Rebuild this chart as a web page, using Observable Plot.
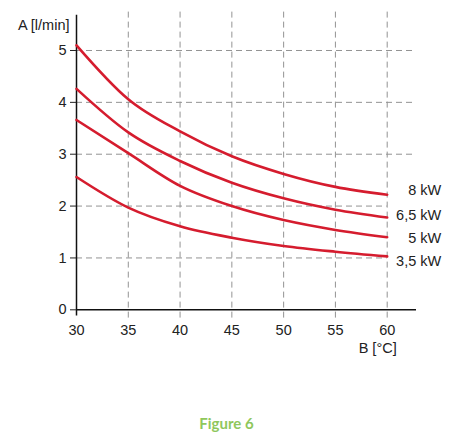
<!DOCTYPE html>
<html>
<head>
<meta charset="utf-8">
<script src="https://cdn.jsdelivr.net/npm/d3@7"></script>
<script src="https://cdn.jsdelivr.net/npm/@observablehq/plot@0.6"></script>
<style>
  body { margin: 0; background: #fff; }
  #chart { width: 453px; }
  .caption {
    width: 453px; text-align: center;
    font-family: Lato, "Open Sans", sans-serif; font-weight: bold;
    font-size: 15px; color: #8fc75c; margin-top: 54px;
  }
</style>
</head>
<body>
<div id="chart"></div>
<div class="caption">Figure 6</div>
<script>
// Temperatures (B, °C)
const temps = [30, 35, 40, 45, 50, 55, 60];
// Puissances et débits (A, l/min)
const powers = ["8 kW", "6,5 kW", "5 kW", "3,5 kW"];
const flow8 = [5.10, 4.06, 3.44, 2.96, 2.62, 2.37, 2.22];
const flow65 = [4.26, 3.42, 2.87, 2.45, 2.15, 1.93, 1.78];
const flow5 = [3.66, 3.02, 2.39, 2.00, 1.73, 1.54, 1.40];
const flow35 = [2.56, 1.97, 1.61, 1.39, 1.23, 1.12, 1.03];
// Graduations
const xTicks = [30, 35, 40, 45, 50, 55, 60];
const yTicks = [0, 1, 2, 3, 4, 5];

const series = [flow8, flow65, flow5, flow35];
const rows = series.flatMap((vals, i) => vals.map((v, j) => ({power: powers[i], B: temps[j], A: v})));
const ends = series.map((vals, i) => ({power: powers[i], B: temps[temps.length - 1], A: vals[vals.length - 1]}));

const labelDy = [-4, -2.5, 1.5, 5]; // petit décalage des étiquettes
const red = "#d51c2e";
const gridStyle = {stroke: "#939393", strokeWidth: 1, strokeDasharray: "6,4"};
const xMax = 62.83; // l'axe dépasse 60
const yMax = 5.8;
const font = "Liberation Sans, Arial, sans-serif";
const fs = 14.5;

const plot = Plot.plot({
  width: 453,
  height: 360,
  marginLeft: 76,
  marginRight: 37,
  marginTop: 8.5,
  marginBottom: 50.7,
  style: {fontFamily: font, fontSize: fs + "px", color: "#222"},
  x: {domain: [30, xMax]},
  y: {domain: [0, yMax]},
  marks: [
    // grille
    Plot.ruleX(xTicks.slice(1), {x: d => d, y1: -0.16, y2: yMax, ...gridStyle}),
    Plot.ruleY(yTicks.filter(v => v >= 3), {y: d => d, x1: 30, x2: xMax, ...gridStyle}),
    Plot.ruleY(yTicks.filter(v => v > 0 && v < 3), {y: d => d, x1: 30, x2: 60, ...gridStyle}),
    // axes
    Plot.ruleX([30], {y1: -0.12, y2: 5.68, stroke: "#111", strokeWidth: 1.5}),
    Plot.ruleY([0], {x1: 30, x2: xMax, stroke: "#111", strokeWidth: 1.5}),
    Plot.axisY(yTicks, {tickSize: 6, tickPadding: 4, fontSize: fs, fontFamily: font, tickFormat: d3.format("d"), label: null}),
    Plot.axisX(xTicks, {tickSize: 0, tickPadding: 15, fontSize: fs, fontFamily: font, label: null}),
    // courbes
    Plot.line(rows, {x: "B", y: "A", z: "power", stroke: red, strokeWidth: 2.6, curve: "monotone-x"}),
    // étiquettes
    ...ends.map((d, i) => Plot.text([d], {x: "B", y: "A", text: "power", dx: 54, dy: labelDy[i], textAnchor: "end", fontSize: fs, fontFamily: font})),
    Plot.text(["A [l/min]"], {x: 30, y: 5.48, text: d => d, dx: -7, textAnchor: "end", fontSize: fs, fontFamily: font}),
    Plot.text(["B [°C]"], {x: 60, y: -0.75, text: d => d, dx: 9.5, textAnchor: "end", fontSize: fs, fontFamily: font})
  ]
});

document.getElementById("chart").appendChild(plot);
</script>
</body>
</html>
